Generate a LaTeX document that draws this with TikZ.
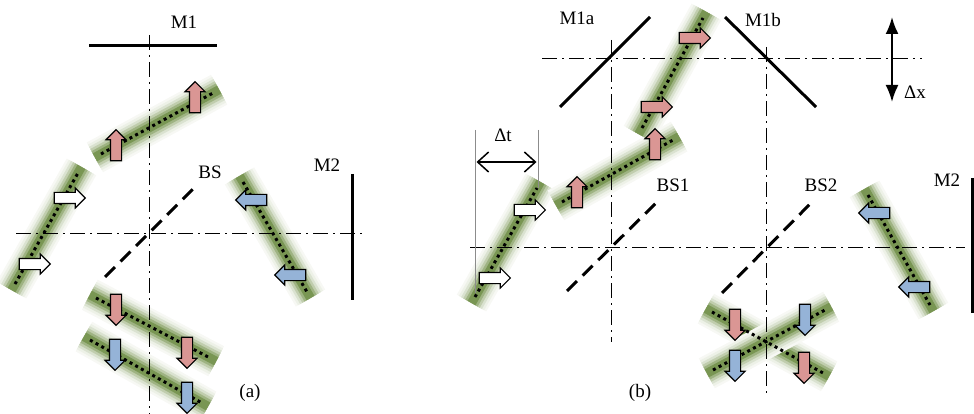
\documentclass[tikz,border=0pt]{standalone}
\usepackage{fontspec}
\setmainfont{Liberation Serif}
\usetikzlibrary{shapes.arrows,arrows.meta}

\definecolor{beamgreen}{RGB}{88,124,40}
\definecolor{pinkfill}{RGB}{218,150,148}
\definecolor{bluefill}{RGB}{149,179,215}

\tikzset{
  mirror/.style={line width=3pt},
  axisline/.style={line width=1pt, dash pattern=on 15pt off 5pt on 2pt off 5pt},
  splitter/.style={line width=3pt, dash pattern=on 14pt off 8pt},
  ray/.style={line width=3pt, dash pattern=on 3pt off 3.5pt},
  guide/.style={line width=1pt, draw=black!45},
  lbl/.style={font=\fontsize{19}{22}\selectfont, inner sep=0pt},
  blockarrow/.style={single arrow, draw, line width=1.1pt, minimum height=31pt,
    minimum width=19pt, single arrow head extend=4.5pt, inner sep=5pt},
  pinkarrow/.style={blockarrow, fill=pinkfill},
  bluearrow/.style={blockarrow, fill=bluefill},
  whitearrow/.style={blockarrow, fill=white},
  pointup/.style={rotate=90},
  pointdown/.style={rotate=-90},
  pointleft/.style={rotate=180},
}

% soft green band behind a beam
\newcommand\glowbeam[2]{%
  \foreach \w/\c in {34/5,29/11,24/22,19/38,14/58,9/80}{%
    \draw[line width=\w pt, draw=beamgreen!\c, line cap=butt,
          shorten <=-7pt, shorten >=-7pt] (#1) -- (#2);
  }%
}

\begin{document}
\begin{tikzpicture}[x=1pt, y=-1pt]
\useasboundingbox (0,0) rectangle (974,414);

% ---------------- beam end points ----------------
% (a)
\coordinate (aInA) at (15,284);   \coordinate (aInB) at (78,173);
\coordinate (aUpA) at (101,154);  \coordinate (aUpB) at (213,93);
\coordinate (aRtA) at (243,182);  \coordinate (aRtB) at (307,292);
\coordinate (aOutRA) at (96,298); \coordinate (aOutRB) at (210,358);
\coordinate (aOutBA) at (90,340); \coordinate (aOutBB) at (202,403);
% (b)
\coordinate (bInA) at (475,297);  \coordinate (bInB) at (537,188);
\coordinate (bUpA) at (562,202);  \coordinate (bUpB) at (673,140);
\coordinate (bTopA) at (642,128); \coordinate (bTopB) at (703,18);
\coordinate (bRtA) at (868,195);  \coordinate (bRtB) at (930,305);
\coordinate (bOutRA) at (712,312); \coordinate (bOutRB) at (823,373);
\coordinate (bOutBA) at (713,370); \coordinate (bOutBB) at (825,310);

% ---------------- glowing bands ----------------
\glowbeam{aInA}{aInB}
\glowbeam{aUpA}{aUpB}
\glowbeam{aRtA}{aRtB}
\glowbeam{aOutRA}{aOutRB}
\glowbeam{aOutBA}{aOutBB}
\glowbeam{bInA}{bInB}
\glowbeam{bUpA}{bUpB}
\glowbeam{bTopA}{bTopB}
\glowbeam{bRtA}{bRtB}
\glowbeam{bOutRA}{bOutRB}
\glowbeam{bOutBA}{bOutBB}

% ---------------- (a) Michelson ----------------
\coordinate (aV1) at (149,35);  \coordinate (aV2) at (149,414);
\coordinate (aH1) at (16,233);  \coordinate (aH2) at (366,233);
\draw[axisline] (aV1) -- (aV2);
\draw[axisline] (aH1) -- (aH2);

\coordinate (m1L) at (89,46);  \coordinate (m1R) at (217,46);
\draw[mirror] (m1L) -- (m1R);
\coordinate (m2T) at (352,174); \coordinate (m2B) at (352,300);
\draw[mirror] (m2T) -- (m2B);
\coordinate (bsA) at (105,277); \coordinate (bsB) at (195,187);
\draw[splitter] (bsA) -- (bsB);

\node[lbl] (tM1) at (184,22) {M1};
\node[lbl] (tBS) at (210,172) {BS};
\node[lbl] (tM2) at (327,165) {M2};
\node[lbl] (ta)  at (250,393) {(a)};

% ---------------- (b) ----------------
\coordinate (bH1a) at (542,59);  \coordinate (bH1b) at (922,59);
\coordinate (bH2a) at (470,247); \coordinate (bH2b) at (965,247);
\coordinate (bV1a) at (611,40);  \coordinate (bV1b) at (611,342);
\coordinate (bV2a) at (766,47);  \coordinate (bV2b) at (766,395);
\draw[axisline] (bH1a) -- (bH1b);
\draw[axisline] (bH2a) -- (bH2b);
\draw[axisline] (bV1a) -- (bV1b);
\draw[axisline] (bV2a) -- (bV2b);

\coordinate (m1aA) at (560,107); \coordinate (m1aB) at (650,17);
\coordinate (m1bA) at (725,17);  \coordinate (m1bB) at (816,107);
\draw[mirror] (m1aA) -- (m1aB);
\draw[mirror] (m1bA) -- (m1bB);
\coordinate (bm2T) at (972,178); \coordinate (bm2B) at (972,313);
\draw[mirror] (bm2T) -- (bm2B);

\coordinate (bs1A) at (567,291); \coordinate (bs1B) at (657,202);
\coordinate (bs2A) at (722,293); \coordinate (bs2B) at (812,202);
\draw[splitter] (bs1A) -- (bs1B);
\draw[splitter] (bs2A) -- (bs2B);

% path difference and delay markers
\coordinate (dxT) at (892,17); \coordinate (dxB) at (892,102);
\draw[line width=2pt, {Latex[length=17pt,width=13pt]}-{Latex[length=17pt,width=13pt]}] (dxT) -- (dxB);
\coordinate (dtLT) at (475,130); \coordinate (dtLB) at (475,293);
\coordinate (dtRT) at (538,130); \coordinate (dtRB) at (538,188);
\draw[guide] (dtLT) -- (dtLB);
\draw[guide] (dtRT) -- (dtRB);
\coordinate (dtA) at (476.5,162); \coordinate (dtB) at (536.5,162);
\draw[line width=1.5pt, {Straight Barb[length=11pt,width=20pt]}-{Straight Barb[length=11pt,width=20pt]}] (dtA) -- (dtB);

\node[lbl] (tM1a) at (577,18) {M1a};
\node[lbl] (tM1b) at (763,20) {M1b};
\node[lbl] (tdx)  at (915,92) {Δx};
\node[lbl] (tdt)  at (503,135) {Δt};
\node[lbl] (tBS1) at (673,185) {BS1};
\node[lbl] (tBS2) at (821,185) {BS2};
\node[lbl] (tbM2) at (947,180) {M2};
\node[lbl] (tb)   at (640,393) {(b)};

% ---------------- dotted beams ----------------
\foreach \p in {aIn,aUp,aRt,aOutR,aOutB,bIn,bUp,bTop,bRt,bOutR,bOutB}{
  \draw[ray] (\p A) -- (\p B);
}

% ---------------- polarisation arrows ----------------
\node[whitearrow] (wa1) at (67,198) {};
\node[whitearrow] (wa2) at (32,264) {};
\node[pinkarrow, pointup] (pa1) at (116,148) {};
\node[pinkarrow, pointup] (pa2) at (195,100) {};
\node[bluearrow, pointleft] (ba1) at (254,200) {};
\node[bluearrow, pointleft] (ba2) at (293,275) {};
\node[pinkarrow, pointdown] (pa3) at (116,307) {};
\node[pinkarrow, pointdown] (pa4) at (187,350) {};
\node[bluearrow, pointdown] (ba3) at (115,352) {};
\node[bluearrow, pointdown] (ba4) at (187,395) {};

\node[whitearrow] (wb1) at (527,210) {};
\node[whitearrow] (wb2) at (492,278) {};
\node[pinkarrow, pointup] (pb1) at (577,195) {};
\node[pinkarrow, pointup] (pb2) at (655,147) {};
\node[pinkarrow] (pb3) at (654,107) {};
\node[pinkarrow] (pb4) at (692,38) {};
\node[bluearrow, pointleft] (bb1) at (877,213) {};
\node[bluearrow, pointleft] (bb2) at (917,287) {};
\node[pinkarrow, pointdown] (pb5) at (735,322) {};
\node[pinkarrow, pointdown] (pb6) at (804,365) {};
\node[bluearrow, pointdown] (bb3) at (805,317) {};
\node[bluearrow, pointdown] (bb4) at (735,363) {};

\end{tikzpicture}
\end{document}
